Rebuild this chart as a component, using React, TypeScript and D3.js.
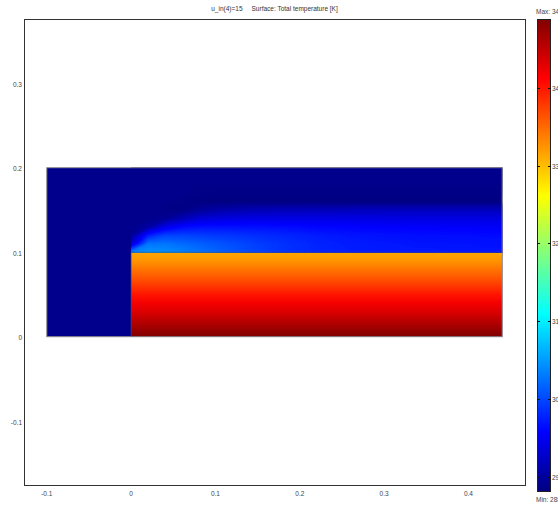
import React, { useEffect, useRef } from "react";
import * as d3 from "d3";

const T_MIN = 288.15;
const T_MAX = 348.88;

const xTicks = [-0.1, 0, 0.1, 0.2, 0.3, 0.4];
const yTicks = [-0.1, 0, 0.1, 0.2, 0.3];
const barTicks = [290, 300, 310, 320, 330, 340];

// jet colormap: fraction of range -> colour
const jetStops = [0, 0.125, 0.375, 0.625, 0.875, 1];
const jetColors = ["#000080", "#0000ff", "#00ffff", "#ffff00", "#ff0000", "#800000"];

// geometry (m)
const domainX = [-0.1, 0.44];
const domainY = [0, 0.2];
const solidX = [0, 0.44];
const solidTop = 0.1;

// temperature in the heated block, y = 0 .. 0.1
const solidY = [0, 0.01, 0.02, 0.03, 0.04, 0.05, 0.06, 0.07, 0.08, 0.09, 0.1];
const solidT = [348.9, 347.1, 345.2, 343.4, 341.9, 340.1, 338.0, 336.1, 334.3, 332.5, 331.3];

// temperature in the fluid above the block
const backgroundT = 288.9;
const fluidX = [0, 0.02, 0.04, 0.06, 0.08, 0.1, 0.12, 0.14, 0.16, 0.18, 0.2, 0.22,
  0.24, 0.26, 0.28, 0.3, 0.32, 0.34, 0.36, 0.38, 0.4, 0.42, 0.44];
const fluidY = [0.1, 0.11, 0.12, 0.13, 0.14, 0.15, 0.16, 0.17, 0.18, 0.19, 0.2];
// one column per fluidX, values from y = 0.10 up to y = 0.20
const fluidT = [
  [303.3, 293.0, 289.3, 288.9, 288.9, 288.9, 288.9, 288.9, 288.9, 288.9, 288.9],
  [304.5, 302.7, 297.3, 290.0, 288.9, 288.9, 288.9, 288.9, 288.9, 288.9, 288.9],
  [304.2, 302.7, 299.7, 294.2, 289.4, 288.6, 288.8, 288.9, 288.9, 288.9, 288.9],
  [303.6, 302.1, 299.7, 296.1, 291.2, 288.5, 288.6, 288.9, 288.9, 288.9, 288.9],
  [302.7, 301.5, 299.4, 296.7, 293.0, 289.6, 288.3, 288.6, 288.8, 288.9, 288.9],
  [301.8, 300.9, 299.1, 296.7, 293.6, 290.4, 288.3, 288.5, 288.8, 288.9, 288.9],
  [300.9, 300.3, 298.8, 296.7, 293.9, 290.9, 288.3, 288.5, 288.8, 288.9, 288.9],
  [300.1, 299.7, 298.5, 296.6, 294.0, 291.2, 288.3, 288.5, 288.8, 288.9, 288.9],
  [299.4, 299.1, 298.2, 296.5, 294.1, 291.4, 288.3, 288.5, 288.8, 288.9, 288.9],
  [298.8, 298.6, 297.9, 296.4, 294.1, 291.5, 288.3, 288.5, 288.8, 288.9, 288.9],
  [298.3, 298.2, 297.6, 296.2, 294.1, 291.6, 288.3, 288.5, 288.8, 288.9, 288.9],
  [297.9, 297.8, 297.3, 296.0, 294.1, 291.7, 288.3, 288.5, 288.8, 288.9, 288.9],
  [297.6, 297.5, 297.1, 295.9, 294.1, 291.7, 288.3, 288.5, 288.8, 288.9, 288.9],
  [297.4, 297.3, 296.9, 295.8, 294.1, 291.8, 288.3, 288.5, 288.8, 288.9, 288.9],
  [297.3, 297.2, 296.8, 295.7, 294.1, 291.8, 288.3, 288.5, 288.8, 288.9, 288.9],
  [297.2, 297.1, 296.7, 295.6, 294.0, 291.8, 288.3, 288.5, 288.8, 288.9, 288.9],
  [297.2, 297.0, 296.6, 295.6, 294.0, 291.8, 288.3, 288.5, 288.8, 288.9, 288.9],
  [297.1, 296.9, 296.5, 295.5, 294.0, 291.8, 288.3, 288.5, 288.8, 288.9, 288.9],
  [297.1, 296.9, 296.5, 295.5, 294.0, 291.8, 288.3, 288.5, 288.8, 288.9, 288.9],
  [297.0, 296.8, 296.4, 295.4, 294.0, 291.8, 288.3, 288.5, 288.8, 288.9, 288.9],
  [297.0, 296.8, 296.4, 295.4, 294.0, 291.8, 288.3, 288.5, 288.8, 288.9, 288.9],
  [296.9, 296.7, 296.3, 295.3, 294.0, 291.8, 288.3, 288.5, 288.8, 288.9, 288.9],
  [296.9, 296.7, 296.3, 295.3, 294.0, 291.8, 288.3, 288.5, 288.8, 288.9, 288.9],
];

const title = "u_in(4)=15     Surface: Total temperature [K]";
const maxLabel = "Max: 348.883";
const minLabel = "Min: 288.15";

const App = () => {
  const ref = useRef<SVGSVGElement>(null);

  useEffect(() => {
    const svg = d3.select(ref.current);
    svg.selectAll("*").remove();

    const font = "'Liberation Sans', Arial, sans-serif";
    const plot = { left: 24, right: 525, top: 19, bottom: 485 };

    const x = d3.scaleLinear().domain([-0.127, 0.467]).range([plot.left, plot.right]);
    const y = d3.scaleLinear().domain([-0.1755, 0.376]).range([plot.bottom, plot.top]);
    const color = d3
      .scaleLinear<string>()
      .domain(jetStops.map((f) => T_MIN + f * (T_MAX - T_MIN)))
      .range(jetColors)
      .clamp(true);

    const defs = svg.append("defs");

    // plot frame
    svg.append("rect")
      .attr("x", plot.left + 0.5)
      .attr("y", plot.top + 0.5)
      .attr("width", plot.right - plot.left)
      .attr("height", plot.bottom - plot.top)
      .attr("fill", "white")
      .attr("stroke", "#333")
      .attr("stroke-width", 1);

    // whole domain, inlet temperature
    svg.append("rect")
      .attr("x", x(domainX[0]))
      .attr("y", y(domainY[1]))
      .attr("width", x(domainX[1]) - x(domainX[0]))
      .attr("height", y(domainY[0]) - y(domainY[1]))
      .attr("fill", color(backgroundT));

    // heated block: vertical gradient
    const sg = defs.append("linearGradient")
      .attr("id", "solidGrad")
      .attr("gradientUnits", "userSpaceOnUse")
      .attr("x1", 0).attr("x2", 0)
      .attr("y1", y(solidY[0]))
      .attr("y2", y(solidY[solidY.length - 1]));
    solidT.forEach((t, i) => {
      sg.append("stop")
        .attr("offset", (solidY[i] - solidY[0]) / (solidY[solidY.length - 1] - solidY[0]))
        .attr("stop-color", color(t));
    });
    svg.append("rect")
      .attr("x", x(solidX[0]))
      .attr("y", y(solidTop))
      .attr("width", x(solidX[1]) - x(solidX[0]))
      .attr("height", y(0) - y(solidTop))
      .attr("fill", "url(#solidGrad)");

    // fluid boundary layer: filled contours of the sampled grid
    defs.append("clipPath").attr("id", "fluidClip")
      .append("rect")
      .attr("x", x(fluidX[0]))
      .attr("y", y(fluidY[fluidY.length - 1]))
      .attr("width", x(fluidX[fluidX.length - 1]) - x(fluidX[0]))
      .attr("height", y(fluidY[0]) - y(fluidY[fluidY.length - 1]));

    const nx = fluidX.length;
    const ny = fluidY.length;
    const values: number[] = [];
    for (let j = ny - 1; j >= 0; j--) {
      for (let i = 0; i < nx; i++) values.push(fluidT[i][j]);
    }
    const step = 0.2;
    const thresholds = d3.range(288, 306, step);
    const contours = d3.contours().size([nx, ny]).thresholds(thresholds)(values);
    const gx = fluidX[1] - fluidX[0];
    const gy = fluidY[1] - fluidY[0];
    const yTopF = fluidY[ny - 1];
    const proj = d3.geoTransform({
      point(px: number, py: number) {
        (this as any).stream.point(x(fluidX[0] + (px - 0.5) * gx), y(yTopF - (py - 0.5) * gy));
      },
    });
    const path = d3.geoPath(proj as any);
    svg.append("g")
      .attr("clip-path", "url(#fluidClip)")
      .selectAll("path")
      .data(contours)
      .join("path")
      .attr("d", (d: any) => path(d))
      .attr("fill", (d: any) => color(d.value + step / 2));

    // geometry edges
    const edges = svg.append("g").attr("fill", "none");
    edges.append("rect")
      .attr("x", x(domainX[0]))
      .attr("y", y(domainY[1]))
      .attr("width", x(domainX[1]) - x(domainX[0]))
      .attr("height", y(domainY[0]) - y(domainY[1]))
      .attr("stroke", "#8c8c8c")
      .attr("stroke-width", 1);
    edges.append("path")
      .attr("d", `M${x(solidX[0])},${y(0)}V${y(solidTop)}H${x(solidX[1])}`)
      .attr("stroke", "#555")
      .attr("stroke-opacity", 0.55)
      .attr("stroke-width", 1);

    // axis labels
    svg.append("g")
      .selectAll("text")
      .data(xTicks)
      .join("text")
      .attr("x", (d) => x(d))
      .attr("y", 496)
      .attr("text-anchor", "middle")
      .attr("font-family", font)
      .attr("font-size", 6.5)
      .attr("fill", "#444")
      .text((d) => String(d));
    svg.append("g")
      .selectAll("text")
      .data(yTicks)
      .join("text")
      .attr("x", 22)
      .attr("y", (d) => y(d) + 3.5)
      .attr("text-anchor", "end")
      .attr("font-family", font)
      .attr("font-size", 6.5)
      .attr("fill", "#444")
      .text((d) => String(d));

    // title
    svg.append("text")
      .attr("x", (plot.left + plot.right) / 2)
      .attr("y", 11)
      .attr("text-anchor", "middle")
      .attr("font-family", font)
      .attr("font-size", 6.5)
      .attr("fill", "#333")
      .style("white-space", "pre")
      .text(title);

    // colour bar
    const bar = { left: 537, right: 550, top: 19, bottom: 491 };
    const cb = d3.scaleLinear().domain([T_MIN, T_MAX]).range([bar.bottom, bar.top]);
    const bg = defs.append("linearGradient")
      .attr("id", "barGrad")
      .attr("gradientUnits", "userSpaceOnUse")
      .attr("x1", 0).attr("x2", 0)
      .attr("y1", bar.bottom).attr("y2", bar.top);
    jetStops.forEach((f, i) => {
      bg.append("stop").attr("offset", f).attr("stop-color", jetColors[i]);
    });
    svg.append("rect")
      .attr("x", bar.left + 0.5)
      .attr("y", bar.top + 0.5)
      .attr("width", bar.right - bar.left)
      .attr("height", bar.bottom - bar.top)
      .attr("fill", "url(#barGrad)")
      .attr("stroke", "#222")
      .attr("stroke-width", 1);
    const tk = svg.append("g");
    barTicks.forEach((t) => {
      const ty = Math.round(cb(t)) + 0.5;
      tk.append("line")
        .attr("x1", bar.left).attr("x2", bar.left + 3)
        .attr("y1", ty).attr("y2", ty)
        .attr("stroke", "#111");
      tk.append("line")
        .attr("x1", bar.right - 2).attr("x2", bar.right + 1)
        .attr("y1", ty).attr("y2", ty)
        .attr("stroke", "#111");
      tk.append("text")
        .attr("x", bar.right + 2)
        .attr("y", ty + 2.5)
        .attr("font-family", font)
        .attr("font-size", 6.5)
        .attr("fill", "#444")
        .text(String(t));
    });
    svg.append("text")
      .attr("x", 536)
      .attr("y", 14)
      .attr("font-family", font)
      .attr("font-size", 6.5)
      .attr("fill", "#444")
      .text(maxLabel);
    svg.append("text")
      .attr("x", 536)
      .attr("y", 502)
      .attr("font-family", font)
      .attr("font-size", 6.5)
      .attr("fill", "#444")
      .text(minLabel);
  }, []);

  return (
    <svg
      ref={ref}
      width={558}
      height={506}
      style={{ position: "absolute", left: 0, top: 0, background: "white", display: "block" }}
    />
  );
};

export default App;
